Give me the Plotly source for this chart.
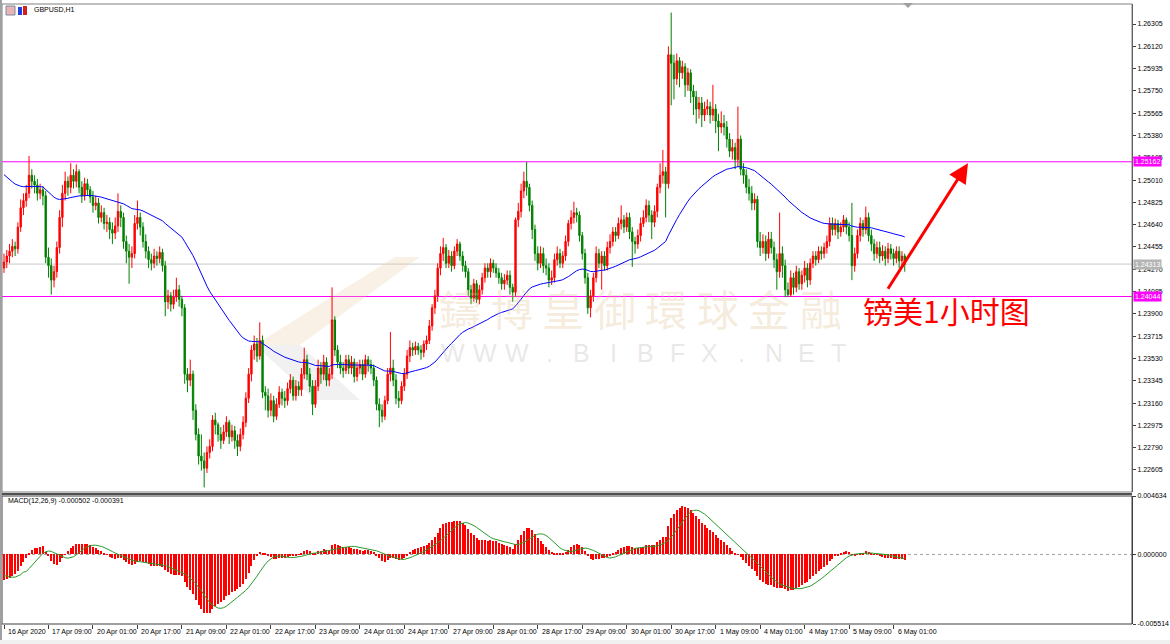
import plotly.graph_objects as go
import numpy as np

# ---------------- data ----------------
symbol = "GBPUSD,H1"
macd_title = "MACD(12,26,9) -0.000502 -0.000391"

tick_bars = [0, 16, 32, 48, 64, 80, 96, 112, 128, 144, 160, 176, 192, 208, 224,
             240, 256, 272, 288, 304, 320]
tick_labels = ["16 Apr 2020", "17 Apr 09:00", "20 Apr 01:00", "20 Apr 17:00",
               "21 Apr 09:00", "22 Apr 01:00", "22 Apr 17:00", "23 Apr 09:00",
               "24 Apr 01:00", "24 Apr 17:00", "27 Apr 09:00", "28 Apr 01:00",
               "28 Apr 17:00", "29 Apr 09:00", "30 Apr 01:00", "30 Apr 17:00",
               "1 May 09:00", "4 May 01:00", "4 May 17:00", "5 May 09:00", "6 May 01:00"]

first_open = 1.2428
closes = [
    1.2433, 1.2438, 1.2442, 1.2446, 1.2444, 1.2462, 1.2478, 1.2484, 1.2490, 1.2505,
    1.2500, 1.2497, 1.2490, 1.2493, 1.2488, 1.2437, 1.2430, 1.2418, 1.2425, 1.2445,
    1.2470, 1.2490, 1.2500, 1.2495, 1.2505, 1.2500, 1.2508, 1.2495, 1.2488, 1.2498,
    1.2493, 1.2487, 1.2480, 1.2482, 1.2470, 1.2474, 1.2465, 1.2466, 1.2460, 1.2457,
    1.2463, 1.2475, 1.2470, 1.2450, 1.2442, 1.2437, 1.2440, 1.2465, 1.2470, 1.2462,
    1.2450, 1.2442, 1.2435, 1.2432, 1.2438, 1.2436, 1.2441, 1.2430, 1.2400, 1.2405,
    1.2398, 1.2404, 1.2410, 1.2402, 1.2395, 1.2340, 1.2335, 1.2340, 1.2310, 1.2290,
    1.2272, 1.2268, 1.2262, 1.2275, 1.2280, 1.2302, 1.2298, 1.2290, 1.2285, 1.2292,
    1.2300, 1.2288, 1.2293, 1.2285, 1.2280, 1.2290, 1.2300, 1.2320, 1.2340, 1.2360,
    1.2365, 1.2355, 1.2368, 1.2325, 1.2322, 1.2310, 1.2318, 1.2305, 1.2315, 1.2325,
    1.2320, 1.2318, 1.2328, 1.2335, 1.2322, 1.2330, 1.2327, 1.2340, 1.2352, 1.2340,
    1.2330, 1.2315, 1.2330, 1.2345, 1.2340, 1.2350, 1.2335, 1.2340, 1.2385, 1.2360,
    1.2350, 1.2345, 1.2343, 1.2352, 1.2345, 1.2350, 1.2338, 1.2345, 1.2348, 1.2340,
    1.2352, 1.2348, 1.2345, 1.2335, 1.2315, 1.2310, 1.2305, 1.2318, 1.2340, 1.2345,
    1.2335, 1.2320, 1.2318, 1.2330, 1.2340, 1.2355, 1.2362, 1.2360, 1.2363, 1.2360,
    1.2358, 1.2365, 1.2368, 1.2380, 1.2395, 1.2405, 1.2428, 1.2440, 1.2445, 1.2432,
    1.2438, 1.2430, 1.2442, 1.2448, 1.2438, 1.2430, 1.2425, 1.2410, 1.2403, 1.2415,
    1.2402, 1.2410, 1.2420, 1.2428, 1.2425, 1.2432, 1.2428, 1.2424, 1.2420, 1.2415,
    1.2418, 1.2422, 1.2412, 1.2408, 1.2468, 1.2475, 1.2492, 1.2500, 1.2495, 1.2480,
    1.2460, 1.2440, 1.2432, 1.2440, 1.2430, 1.2428, 1.2418, 1.2420, 1.2435, 1.2440,
    1.2432, 1.2438, 1.2450, 1.2465, 1.2470, 1.2474, 1.2472, 1.2455, 1.2440, 1.2420,
    1.2395, 1.2405, 1.2420, 1.2440, 1.2432, 1.2438, 1.2430, 1.2445, 1.2450, 1.2458,
    1.2455, 1.2465, 1.2468, 1.2462, 1.2470, 1.2458, 1.2450, 1.2448, 1.2455, 1.2465,
    1.2470, 1.2480, 1.2472, 1.2466, 1.2475, 1.2495, 1.2505, 1.2508, 1.2498, 1.2605,
    1.2598, 1.2585, 1.2600, 1.2590, 1.2595, 1.2580, 1.2590, 1.2575, 1.2570, 1.2560,
    1.2565, 1.2555, 1.2560, 1.2562, 1.2555, 1.2560, 1.2550, 1.2545, 1.2548, 1.2545,
    1.2535, 1.2525, 1.2528, 1.2518, 1.2535, 1.2510, 1.2505, 1.2495, 1.2490, 1.2482,
    1.2485, 1.2450, 1.2445, 1.2450, 1.2440, 1.2452, 1.2445, 1.2435, 1.2425, 1.2440,
    1.2430, 1.2410, 1.2406, 1.2420, 1.2412, 1.2425, 1.2415, 1.2422, 1.2428, 1.2418,
    1.2432, 1.2438, 1.2435, 1.2442, 1.2440, 1.2445, 1.2450, 1.2465, 1.2460, 1.2465,
    1.2458, 1.2462, 1.2468, 1.2462, 1.2455, 1.2430, 1.2440, 1.2455, 1.2465, 1.2460,
    1.2470, 1.2455, 1.2448, 1.2440, 1.2445, 1.2438, 1.2442, 1.2436, 1.2444, 1.2440,
    1.2436, 1.2442, 1.2434, 1.2438, 1.2431]
highs = [
    1.2440, 1.2443, 1.2448, 1.2452, 1.2450, 1.2466, 1.2485, 1.2490, 1.2497, 1.2521,
    1.2510, 1.2505, 1.2502, 1.2498, 1.2496, 1.2492, 1.2445, 1.2436, 1.2430, 1.2450,
    1.2476, 1.2497, 1.2508, 1.2504, 1.2515, 1.2510, 1.2514, 1.2510, 1.2500, 1.2503,
    1.2502, 1.2496, 1.2492, 1.2488, 1.2486, 1.2480, 1.2478, 1.2472, 1.2470, 1.2466,
    1.2470, 1.2490, 1.2480, 1.2474, 1.2455, 1.2448, 1.2446, 1.2472, 1.2484, 1.2474,
    1.2466, 1.2456, 1.2446, 1.2440, 1.2444, 1.2442, 1.2446, 1.2444, 1.2434, 1.2410,
    1.2408, 1.2410, 1.2420, 1.2414, 1.2405, 1.2398, 1.2345, 1.2352, 1.2343, 1.2315,
    1.2295, 1.2290, 1.2275, 1.2280, 1.2286, 1.2306, 1.2308, 1.2300, 1.2296, 1.2298,
    1.2305, 1.2302, 1.2298, 1.2297, 1.2290, 1.2295, 1.2305, 1.2325, 1.2345, 1.2364,
    1.2372, 1.2370, 1.2383, 1.2372, 1.2330, 1.2328, 1.2324, 1.2322, 1.2320, 1.2330,
    1.2328, 1.2326, 1.2333, 1.2340, 1.2338, 1.2335, 1.2334, 1.2345, 1.2362, 1.2356,
    1.2345, 1.2335, 1.2335, 1.2352, 1.2350, 1.2356, 1.2354, 1.2345, 1.2412, 1.2388,
    1.2364, 1.2356, 1.2350, 1.2356, 1.2356, 1.2355, 1.2353, 1.2350, 1.2352, 1.2352,
    1.2356, 1.2355, 1.2352, 1.2348, 1.2338, 1.2320, 1.2315, 1.2322, 1.2345, 1.2375,
    1.2352, 1.2340, 1.2326, 1.2334, 1.2345, 1.2360, 1.2368, 1.2366, 1.2367, 1.2366,
    1.2364, 1.2368, 1.2372, 1.2385, 1.2398, 1.2410, 1.2432, 1.2446, 1.2453, 1.2448,
    1.2443, 1.2442, 1.2446, 1.2452, 1.2450, 1.2442, 1.2434, 1.2428, 1.2414, 1.2419,
    1.2418, 1.2414, 1.2424, 1.2432, 1.2432, 1.2436, 1.2435, 1.2432, 1.2428, 1.2424,
    1.2423, 1.2426, 1.2426, 1.2415, 1.2470, 1.2482, 1.2498, 1.2508, 1.2516, 1.2498,
    1.2484, 1.2464, 1.2446, 1.2446, 1.2445, 1.2436, 1.2432, 1.2426, 1.2440, 1.2446,
    1.2444, 1.2442, 1.2455, 1.2468, 1.2476, 1.2483, 1.2478, 1.2475, 1.2458, 1.2444,
    1.2424, 1.2410, 1.2424, 1.2446, 1.2444, 1.2442, 1.2442, 1.2450, 1.2456, 1.2462,
    1.2462, 1.2470, 1.2480, 1.2472, 1.2474, 1.2474, 1.2462, 1.2454, 1.2460, 1.2470,
    1.2476, 1.2485, 1.2484, 1.2476, 1.2480, 1.2498, 1.2515, 1.2526, 1.2512, 1.2612,
    1.2640, 1.2605, 1.2606, 1.2603, 1.2600, 1.2598, 1.2594, 1.2593, 1.2580, 1.2575,
    1.2570, 1.2570, 1.2566, 1.2568, 1.2566, 1.2580, 1.2564, 1.2556, 1.2558, 1.2555,
    1.2550, 1.2540, 1.2535, 1.2532, 1.2562, 1.2538, 1.2515, 1.2510, 1.2502, 1.2496,
    1.2490, 1.2488, 1.2458, 1.2456, 1.2455, 1.2458, 1.2458, 1.2450, 1.2440, 1.2474,
    1.2446, 1.2435, 1.2416, 1.2426, 1.2424, 1.2430, 1.2428, 1.2426, 1.2434, 1.2432,
    1.2436, 1.2442, 1.2442, 1.2446, 1.2446, 1.2449, 1.2455, 1.2470, 1.2470, 1.2469,
    1.2468, 1.2466, 1.2472, 1.2470, 1.2466, 1.2482, 1.2445, 1.2460, 1.2470, 1.2468,
    1.2479, 1.2474, 1.2460, 1.2452, 1.2450, 1.2450, 1.2447, 1.2446, 1.2449, 1.2448,
    1.2444, 1.2446, 1.2446, 1.2442, 1.2440]
lows = [
    1.2424, 1.2428, 1.2432, 1.2437, 1.2438, 1.2440, 1.2458, 1.2472, 1.2479, 1.2486,
    1.2494, 1.2490, 1.2484, 1.2485, 1.2480, 1.2432, 1.2420, 1.2406, 1.2412, 1.2420,
    1.2440, 1.2462, 1.2484, 1.2488, 1.2490, 1.2494, 1.2495, 1.2490, 1.2482, 1.2484,
    1.2488, 1.2482, 1.2474, 1.2476, 1.2465, 1.2466, 1.2460, 1.2458, 1.2452, 1.2448,
    1.2452, 1.2458, 1.2462, 1.2444, 1.2432, 1.2415, 1.2428, 1.2436, 1.2460, 1.2455,
    1.2445, 1.2436, 1.2428, 1.2426, 1.2428, 1.2430, 1.2432, 1.2425, 1.2388, 1.2394,
    1.2392, 1.2394, 1.2400, 1.2396, 1.2388, 1.2332, 1.2325, 1.2330, 1.2302, 1.2285,
    1.2265, 1.2260, 1.2246, 1.2258, 1.2270, 1.2276, 1.2290, 1.2284, 1.2278, 1.2282,
    1.2288, 1.2282, 1.2284, 1.2278, 1.2272, 1.2276, 1.2286, 1.2296, 1.2316, 1.2334,
    1.2352, 1.2350, 1.2352, 1.2320, 1.2310, 1.2304, 1.2305, 1.2300, 1.2302, 1.2312,
    1.2314, 1.2312, 1.2314, 1.2324, 1.2318, 1.2318, 1.2322, 1.2322, 1.2336, 1.2335,
    1.2325, 1.2306, 1.2312, 1.2326, 1.2332, 1.2335, 1.2330, 1.2330, 1.2336, 1.2355,
    1.2345, 1.2340, 1.2337, 1.2340, 1.2340, 1.2340, 1.2333, 1.2334, 1.2340, 1.2335,
    1.2337, 1.2342, 1.2340, 1.2330, 1.2310, 1.2296, 1.2300, 1.2302, 1.2315, 1.2334,
    1.2330, 1.2315, 1.2312, 1.2315, 1.2326, 1.2336, 1.2350, 1.2355, 1.2356, 1.2356,
    1.2352, 1.2354, 1.2360, 1.2365, 1.2376, 1.2390, 1.2400, 1.2422, 1.2434, 1.2428,
    1.2428, 1.2425, 1.2427, 1.2438, 1.2434, 1.2425, 1.2420, 1.2405, 1.2398, 1.2400,
    1.2399, 1.2398, 1.2406, 1.2416, 1.2420, 1.2420, 1.2424, 1.2420, 1.2415, 1.2410,
    1.2410, 1.2414, 1.2406, 1.2400, 1.2404, 1.2462, 1.2470, 1.2486, 1.2488, 1.2475,
    1.2452, 1.2434, 1.2426, 1.2428, 1.2424, 1.2422, 1.2412, 1.2414, 1.2416, 1.2430,
    1.2428, 1.2428, 1.2434, 1.2446, 1.2460, 1.2465, 1.2466, 1.2450, 1.2435, 1.2415,
    1.2390, 1.2387, 1.2400, 1.2416, 1.2428, 1.2410, 1.2426, 1.2426, 1.2440, 1.2446,
    1.2450, 1.2452, 1.2460, 1.2457, 1.2458, 1.2452, 1.2429, 1.2440, 1.2444, 1.2450,
    1.2462, 1.2466, 1.2466, 1.2452, 1.2462, 1.2470, 1.2490, 1.2498, 1.2470, 1.2494,
    1.2563, 1.2568, 1.2580, 1.2578, 1.2585, 1.2570, 1.2575, 1.2565, 1.2555, 1.2548,
    1.2552, 1.2545, 1.2550, 1.2555, 1.2548, 1.2550, 1.2540, 1.2525, 1.2540, 1.2538,
    1.2528, 1.2520, 1.2518, 1.2510, 1.2512, 1.2505, 1.2498, 1.2490, 1.2484, 1.2476,
    1.2476, 1.2445, 1.2438, 1.2440, 1.2434, 1.2436, 1.2440, 1.2428, 1.2410, 1.2420,
    1.2420, 1.2404, 1.2404, 1.2404, 1.2406, 1.2408, 1.2410, 1.2410, 1.2416, 1.2412,
    1.2414, 1.2428, 1.2430, 1.2432, 1.2435, 1.2436, 1.2440, 1.2446, 1.2455, 1.2455,
    1.2452, 1.2454, 1.2458, 1.2456, 1.2450, 1.2418, 1.2425, 1.2436, 1.2450, 1.2454,
    1.2456, 1.2450, 1.2442, 1.2434, 1.2436, 1.2432, 1.2434, 1.2430, 1.2432, 1.2435,
    1.2430, 1.2432, 1.2428, 1.2428, 1.2425]

# indicator settings; starting levels at the first bar
ma_period = 60
ma_seed = 1.2508
ema12_seed, ema26_seed = 1.2447, 1.2468
signal_head = [-0.0017, -0.0017, -0.0018, -0.0018, -0.0018, -0.0017, -0.0016, -0.0014]

price_ticks = [1.22605, 1.22790, 1.22975, 1.23160, 1.23345, 1.23530, 1.23715, 1.23900,
               1.24085, 1.24270, 1.24455, 1.24640, 1.24825, 1.25010, 1.25195, 1.25380,
               1.25565, 1.25750, 1.25935, 1.26120, 1.26305]
price_range = [1.22422, 1.26471]
macd_range = [-0.005514, 0.004634]
macd_ticks = [-0.005514, 0.0, 0.004634]
level_upper = 1.25162
level_lower = 1.24044
bid_price = 1.24313

note_text = "镑美1小时图"
wm_cn = "鑄博皇御環球金融"
wm_en = "WWW.BIBFX.NET"

# ---------------- derived series ----------------
n = len(closes)
idx = list(range(n))
opens = [first_open] + closes[:-1]

a_ma = 2 / (ma_period + 1)
m = ma_seed
ma = []
for c in closes:
    m += a_ma * (c - m)
    ma.append(m)

a12, a26 = 2 / 13, 2 / 27
e12, e26 = ema12_seed, ema26_seed
macd = []
for c in closes:
    e12 += a12 * (c - e12)
    e26 += a26 * (c - e26)
    macd.append(e12 - e26)
signal = [signal_head[i] if i < len(signal_head) else float(np.mean(macd[i - 8:i + 1]))
          for i in range(n)]

# ---------------- geometry ----------------
W, H = 1170, 644
L, R, T, B = 2, 38, 4, 20
PW, PH = W - L - R, H - T - B
BOT = H - B


def xp(px):
    return (px - L) / PW


def yp(py):
    return (BOT - py) / PH


bar_px = 2.78
xmin = -(4 - L) / bar_px
xmax = xmin + PW / bar_px

UI = "Liberation Sans, Arial, sans-serif"

fig = go.Figure()

fig.add_trace(go.Candlestick(
    x=idx, open=opens, high=highs, low=lows, close=closes,
    increasing=dict(line=dict(color="#ff0000", width=1), fillcolor="#ff0000"),
    decreasing=dict(line=dict(color="#008000", width=1), fillcolor="#008000"),
    whiskerwidth=0, xaxis="x", yaxis="y", hoverinfo="skip", showlegend=False))

fig.add_trace(go.Scatter(x=idx, y=ma, mode="lines", line=dict(color="#0000ff", width=1),
                         xaxis="x", yaxis="y", hoverinfo="skip", showlegend=False))

fig.add_trace(go.Bar(x=idx, y=macd, marker=dict(color="#ff0000", line=dict(width=0)),
                     width=0.38, xaxis="x", yaxis="y2", hoverinfo="skip", showlegend=False))
fig.add_trace(go.Scatter(x=idx, y=signal, mode="lines", line=dict(color="#2a9a2a", width=1),
                         xaxis="x", yaxis="y2", hoverinfo="skip", showlegend=False))

main_dom = [yp(492), 1]
macd_dom = [0, yp(496)]

axis_font = dict(family=UI, size=7, color="#000000")
fig.update_layout(
    width=W, height=H, margin=dict(l=L, r=R, t=T, b=B, autoexpand=False),
    paper_bgcolor="#ffffff", plot_bgcolor="#ffffff", showlegend=False,
    bargap=0,
    xaxis=dict(domain=[0, 1], range=[xmin, xmax], anchor="y2",
               rangeslider=dict(visible=False), showgrid=False, zeroline=False,
               tickmode="array", tickvals=tick_bars, showticklabels=False,
               ticks="outside", ticklen=4, tickcolor="#404040", showline=False),
    yaxis=dict(domain=main_dom, range=price_range, side="right", anchor="x",
               showgrid=False, zeroline=False, tickmode="array", tickvals=price_ticks,
               ticktext=[f"{v:.5f}" for v in price_ticks], ticks="outside", ticklen=3,
               tickcolor="#404040", tickfont=axis_font, showline=True,
               linecolor="#404040", linewidth=1),
    yaxis2=dict(domain=macd_dom, range=macd_range, side="right", anchor="x",
                showgrid=False, zeroline=False, tickmode="array", tickvals=macd_ticks,
                ticktext=[f"{v:.6f}" for v in macd_ticks], ticks="outside", ticklen=3,
                tickcolor="#404040", tickfont=axis_font, showline=True,
                linecolor="#404040", linewidth=1),
)

shapes = []
for lv, col in [(level_upper, "#ff00ff"), (level_lower, "#ff00ff"), (bid_price, "#c8c8c8")]:
    shapes.append(dict(type="line", xref="paper", yref="y", x0=0, x1=1, y0=lv, y1=lv,
                       line=dict(color=col, width=1), layer="below"))
shapes.append(dict(type="line", xref="paper", yref="y2", x0=0, x1=1, y0=0, y1=0,
                   line=dict(color="#a0a0a0", width=1, dash="dot"), layer="below"))
shapes.append(dict(type="rect", xref="paper", yref="paper", x0=0, x1=1,
                   y0=main_dom[0], y1=1, line=dict(color="#808080", width=1)))
shapes.append(dict(type="rect", xref="paper", yref="paper", x0=0, x1=1,
                   y0=0, y1=macd_dom[1], line=dict(color="#404040", width=1)))
shapes.append(dict(type="line", xref="paper", yref="paper", x0=0, x1=1,
                   y0=yp(494), y1=yp(494), line=dict(color="#505050", width=2)))
shapes.append(dict(type="rect", xref="paper", yref="paper", x0=xp(0), x1=xp(2),
                   y0=yp(644), y1=yp(0), fillcolor="#a0a0a0", line=dict(width=0)))
shapes.append(dict(type="rect", xref="paper", yref="paper", x0=xp(0), x1=xp(1170),
                   y0=yp(644), y1=yp(640), fillcolor="#f0f0f0", line=dict(width=0)))
shapes.append(dict(type="path", xref="paper", yref="paper",
                   path=f"M {xp(903)} {yp(3)} L {xp(913)} {yp(3)} L {xp(908)} {yp(8)} Z",
                   fillcolor="#a0a0a0", line=dict(width=0)))
shapes.append(dict(type="rect", xref="paper", yref="paper", x0=xp(6), x1=xp(15),
                   y0=yp(15), y1=yp(6), fillcolor="#e8b4b4", line=dict(color="#7a8aa0", width=1)))
shapes.append(dict(type="rect", xref="paper", yref="paper", x0=xp(18), x1=xp(22),
                   y0=yp(15), y1=yp(7), fillcolor="#2040e0", line=dict(width=0)))
shapes.append(dict(type="rect", xref="paper", yref="paper", x0=xp(23), x1=xp(27),
                   y0=yp(15), y1=yp(6), fillcolor="#d02020", line=dict(width=0)))
shapes.append(dict(type="path", xref="paper", yref="paper",
                   path=(f"M {xp(395)} {yp(257)} L {xp(420)} {yp(257)} L {xp(300)} {yp(345)} "
                         f"L {xp(255)} {yp(345)} Z"),
                   fillcolor="rgba(235,205,160,0.28)", line=dict(width=0), layer="below"))
shapes.append(dict(type="path", xref="paper", yref="paper",
                   path=(f"M {xp(255)} {yp(345)} L {xp(300)} {yp(345)} L {xp(360)} {yp(400)} "
                         f"L {xp(315)} {yp(400)} Z"),
                   fillcolor="rgba(210,210,210,0.30)", line=dict(width=0), layer="below"))

annotations = []
for b, t in zip(tick_bars, tick_labels):
    annotations.append(dict(x=b, xref="x", y=yp(632), yref="paper", text=t,
                            showarrow=False, xanchor="left", yanchor="middle", xshift=2,
                            font=dict(family=UI, size=7, color="#000000")))
for lv, col in [(level_upper, "#ff00ff"), (level_lower, "#ff00ff"), (bid_price, "#b4b4b4")]:
    annotations.append(dict(x=1, xref="paper", y=lv, yref="y", text=f"{lv:.5f}",
                            showarrow=False, xanchor="left", yanchor="middle", xshift=1,
                            bgcolor=col, borderpad=1,
                            font=dict(family=UI, size=7, color="#ffffff")))
annotations.append(dict(x=xp(32), xref="paper", y=yp(10), yref="paper", text=symbol,
                        showarrow=False, xanchor="left", yanchor="middle",
                        font=dict(family=UI, size=7, color="#000000")))
annotations.append(dict(x=xp(6), xref="paper", y=yp(501), yref="paper", text=macd_title,
                        showarrow=False, xanchor="left", yanchor="middle",
                        font=dict(family=UI, size=7, color="#000000")))
for k, ch in enumerate(wm_cn):
    annotations.append(dict(x=xp(460 + k * 51.5), xref="paper", y=yp(307), yref="paper",
                            text=ch, showarrow=False, xanchor="center", yanchor="middle",
                            font=dict(family="Noto Sans CJK TC", size=42,
                                      color="rgba(226,190,140,0.30)")))
for k, ch in enumerate(wm_en):
    annotations.append(dict(x=xp(453 + k * 32.1), xref="paper", y=yp(353), yref="paper",
                            text=ch, showarrow=False, xanchor="center", yanchor="middle",
                            font=dict(family="Liberation Sans, Arial", size=25,
                                      color="rgba(190,190,190,0.35)")))
annotations.append(dict(x=(946 - 4) / bar_px, xref="x", y=1.2393, yref="y", text=note_text,
                        showarrow=False, xanchor="center", yanchor="middle",
                        font=dict(family="Noto Sans CJK SC", size=30, color="#ff0000")))
annotations.append(dict(x=(968 - 4) / bar_px, xref="x", y=1.2515, yref="y", text="",
                        showarrow=True, ax=-81, ay=127, arrowhead=2, arrowsize=1.3,
                        arrowwidth=3, arrowcolor="#ff0000", standoff=0))

fig.update_layout(shapes=shapes, annotations=annotations)
fig.write_html("out.html", config={"displayModeBar": False},
               post_script="document.body.style.margin='0px';document.body.style.overflow='hidden';")
